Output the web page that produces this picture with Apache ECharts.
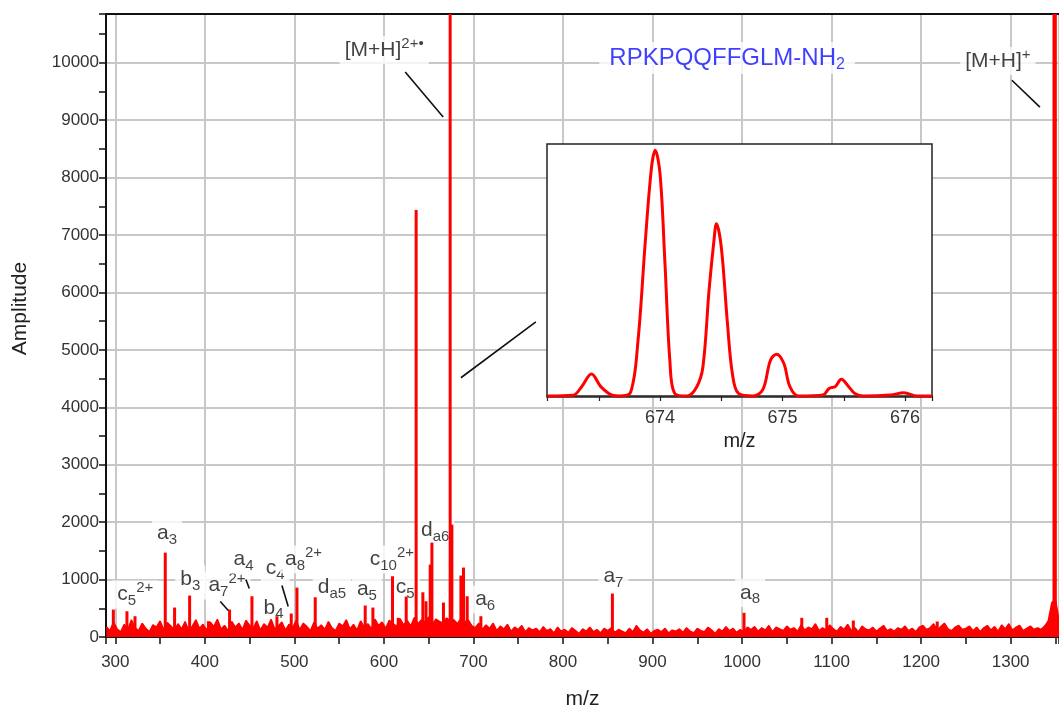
<!DOCTYPE html>
<html>
<head>
<meta charset="utf-8">
<script src="https://cdn.jsdelivr.net/npm/echarts@6/dist/echarts.min.js"></script>
<style>
  html, body { margin: 0; padding: 0; background: #fff; }
  #chart { width: 1059px; height: 707px; }
</style>
</head>
<body>
<div id="chart"></div>
<script>
// baseline noise of the spectrum, one value every 4 m/z starting at 290
const noiseStart = 290
const noiseStep = 4
const noise = [
  180, 110, 260, 140, 90, 220, 130, 300, 160, 110, 240, 150, 90, 210, 170, 280, 130, 250, 190, 120,
  230, 140, 270, 110, 190, 300, 150, 220, 120, 260, 180, 310, 140, 200, 110, 270, 170, 240, 130, 290,
  200, 150, 280, 120, 230, 170, 310, 140, 190, 260, 120, 220, 160, 290, 130, 240, 180, 110, 260, 150,
  210, 130, 270, 160, 110, 240, 190, 300, 140, 220, 120, 280, 170, 230, 140, 310, 200, 260, 150, 290,
  240, 180, 320, 210, 290, 190, 340, 230, 300, 260, 350, 220, 310, 270, 240, 330, 280, 300, 230, 320,
  260, 300, 200, 160, 240, 130, 210, 150, 240, 110, 190, 140, 220, 100, 170, 130, 200, 90, 160, 120,
  150, 90, 180, 110, 140, 70, 170, 100, 130, 80, 160, 110, 60, 140, 100, 170, 90, 130, 70, 150,
  110, 160, 80, 130, 100, 70, 150, 90, 200, 120, 80, 140, 60, 110, 130, 90, 150, 70, 120, 100,
  140, 80, 160, 100, 70, 150, 110, 90, 170, 120, 60, 140, 100, 180, 110, 150, 80, 130, 90, 170,
  130, 180, 100, 160, 120, 200, 90, 170, 140, 110, 190, 130, 160, 100, 210, 120, 170, 140, 230, 110,
  160, 120, 210, 140, 100, 180, 130, 220, 110, 160, 90, 190, 140, 120, 170, 100, 150, 200, 110, 140,
  100, 160, 130, 190, 110, 150, 90, 170, 200, 130, 160, 230, 120, 180, 240, 140, 110, 170, 200, 130,
  150, 190, 110, 170, 90, 160, 200, 120, 180, 100, 210, 140, 230, 120, 170, 200, 110, 150, 190, 130,
  160, 130, 190, 280, 600, 650, 300
]

// fragment / precursor peaks [m/z, amplitude]
const peaks = [
  [297.8, 478], [313, 449], [322, 362], [355.8, 1470], [366.2, 513], [383, 722], [404, 275],
  [427.6, 478], [452.6, 710], [480.5, 362], [496.5, 409], [502.9, 861], [523.3, 692],
  [579.1, 548], [587.7, 513], [609.6, 1058], [616, 334], [624.9, 705], [636, 7437],
  [643.5, 779], [647, 623], [651.7, 1261], [653.6, 1644], [666.5, 600], [674, 11500],
  [675.9, 1957], [686, 1070], [688.9, 1209], [693, 710], [708.3, 362], [855.2, 757],
  [1002.2, 421], [1066.7, 334], [1094.6, 334], [1124.3, 287], [1218, 270],
  [1348.4, 11500], [1349.9, 11500]
]

// annotation texts and where they sit (m/z, amplitude)
const labelText = [
  '[M+H]{sup|2+•}', '[M+H]{sup|+}', 'a{sub|3}', 'c{sub|5}{sup|2+}', 'b{sub|3}',
  'a{sub|7}{sup|2+}', 'a{sub|4}', 'c{sub|4}', 'b{sub|4}', 'a{sub|8}{sup|2+}', 'd{sub|a5}',
  'a{sub|5}', 'c{sub|10}{sup|2+}', 'c{sub|5}', 'd{sub|a6}', 'a{sub|6}', 'a{sub|7}', 'a{sub|8}'
]
const labelPos = [
  [600.3, 10221], [1285.8, 10030], [357.7, 1813], [322.3, 739], [383.7, 1000],
  [424.7, 896], [443.2, 1348], [478.6, 1204], [476.7, 508], [510.2, 1348], [541.9, 873],
  [581, 826], [608.9, 1348], [623.8, 873], [657.3, 1858], [713.1, 652], [856.3, 1058], [1009, 769]
]
const peptide = 'RPKPQQFFGLM-NH{sub|2}'
const peptidePos = [983.3, 10082]

// short leader lines from labels to peaks
const leaders = [
  [[623.8, 9838], [666.2, 9055]],
  [[1301.4, 9697], [1332.7, 9229]],
  [[417.2, 618], [426.2, 461]],
  [[445.9, 1000], [449.6, 844]],
  [[486.1, 896], [493.1, 531]],
  [[686, 4515], [769.7, 5489]]
]

// inset: isotope cluster of [M+H]2+•, relative amplitude
const insetMz = [
  673.08, 673.29, 673.36, 673.44, 673.52, 673.61, 673.67, 673.76, 673.82, 673.88, 673.93,
  673.96, 674.00, 674.04, 674.08, 674.12, 674.22, 674.30, 674.35, 674.40, 674.44, 674.46,
  674.50, 674.55, 674.59, 674.64, 674.76, 674.84, 674.90, 674.95, 675.01, 675.06, 675.13,
  675.33, 675.38, 675.43, 675.48, 675.54, 675.59, 675.66, 675.88, 675.99, 676.10, 676.22
]
const insetAmp = [
  0, 0.3, 3.7, 8.7, 3.5, 0.3, 0, 1.5, 22, 61.7, 90.6,
  97.5, 88, 52.6, 14, 1, 0, 3.7, 11.6, 42, 61.7, 68.4,
  59, 28.9, 9, 1, 0, 2.6, 14, 16.6, 13, 3.7, 0,
  0.4, 3, 3.7, 6.6, 3.7, 1, 0, 0.4, 1.3, 0, 0
]

const RED = '#ff0000'
const GRID_GRAY = '#c8c8c8'
const FONT = 'Liberation Sans, Arial, sans-serif'
const plain = v => String(v)

const chart = echarts.init(document.getElementById('chart'))

const rich = {
  sub: { fontSize: 15, verticalAlign: 'bottom', lineHeight: 14 },
  sup: { fontSize: 15, verticalAlign: 'top', lineHeight: 14 }
}

const labelData = labelPos.map((p, i) => ({
  value: p,
  label: { formatter: labelText[i] }
}))
labelData.push({
  value: peptidePos,
  label: {
    formatter: peptide,
    color: '#0f0fff',
    fontSize: 24,
    padding: [2, 10],
    rich: {
      sub: { fontSize: 16, verticalAlign: 'bottom', lineHeight: 14, color: '#0f0fff' }
    }
  }
})

const option = {
  animation: false,
  backgroundColor: '#fff',
  grid: [
    { left: 106, top: 14, right: 0, bottom: 70, outerBoundsMode: 'none', containLabel: false },
    {
      left: 547, top: 144, width: 385, height: 253, z: 4,
      outerBoundsMode: 'none', containLabel: false,
      show: true, backgroundColor: '#fff', borderColor: '#222', borderWidth: 1.5
    }
  ],
  xAxis: [
    {
      type: 'value', gridIndex: 0, min: 289.6, max: 1354, splitNumber: 10,
      name: 'm/z', nameLocation: 'middle', nameGap: 52,
      nameTextStyle: { fontFamily: FONT, fontSize: 21, color: '#222' },
      axisLine: { lineStyle: { color: '#111', width: 2 } },
      axisTick: { length: 7, lineStyle: { color: '#111', width: 1.5 } },
      minorTick: { show: true, splitNumber: 2, length: 7, lineStyle: { color: '#111', width: 1.5 } },
      splitLine: { show: true, lineStyle: { color: GRID_GRAY, width: 2 } },
      axisLabel: {
        fontFamily: FONT, fontSize: 17, color: '#333', margin: 17, formatter: plain,
        showMinLabel: false, showMaxLabel: false
      }
    },
    {
      type: 'value', gridIndex: 0, position: 'top', min: 289.6, max: 1354,
      axisLine: { show: true, lineStyle: { color: '#111', width: 2 } },
      axisTick: { show: false }, axisLabel: { show: false }, splitLine: { show: false }
    },
    {
      type: 'value', gridIndex: 1, min: 673.077, max: 676.22, splitNumber: 3, z: 5,
      name: 'm/z', nameLocation: 'middle', nameGap: 34,
      nameTextStyle: { fontFamily: FONT, fontSize: 20, color: '#222' },
      axisLine: { lineStyle: { color: '#222', width: 1.5 } },
      axisTick: { length: 5, lineStyle: { color: '#222', width: 1.2 } },
      minorTick: { show: true, splitNumber: 2, length: 5, lineStyle: { color: '#222', width: 1.2 } },
      splitLine: { show: false },
      axisLabel: {
        fontFamily: FONT, fontSize: 18, color: '#333', margin: 12,
        showMinLabel: false, showMaxLabel: false
      }
    }
  ],
  yAxis: [
    {
      type: 'value', gridIndex: 0, min: 0, max: 10850, splitNumber: 10,
      name: 'Amplitude', nameLocation: 'middle', nameGap: 75,
      nameTextStyle: { fontFamily: FONT, fontSize: 21, color: '#222', padding: [0, 0, 0, 34] },
      axisLine: { show: true, lineStyle: { color: '#111', width: 2 } },
      axisTick: { show: true, length: 7, lineStyle: { color: '#111', width: 1.5 } },
      minorTick: { show: true, splitNumber: 2, length: 7, lineStyle: { color: '#111', width: 1.5 } },
      splitLine: { show: true, lineStyle: { color: GRID_GRAY, width: 2 } },
      axisLabel: {
        fontFamily: FONT, fontSize: 17, color: '#333', margin: 7, formatter: plain,
        showMaxLabel: false
      }
    },
    {
      type: 'value', gridIndex: 1, min: -0.4, max: 100, show: false
    }
  ],
  series: [
    {
      // label boxes: white backgrounds hide the grid lines, spectrum drawn on top
      type: 'scatter', xAxisIndex: 0, yAxisIndex: 0, z: 1, silent: true,
      symbolSize: 1, itemStyle: { color: 'transparent' },
      label: {
        show: true, position: 'inside',
        fontFamily: FONT, fontSize: 21, color: '#111', lineHeight: 28,
        backgroundColor: '#fff', padding: [0, 5],
        rich: rich
      },
      labelLayout: { hideOverlap: false },
      data: labelData,
      markLine: {
        silent: true, symbol: 'none', animation: false,
        label: { show: false },
        lineStyle: { color: '#111', width: 1.6, type: 'solid' },
        data: leaders.map(l => [{ coord: l[0] }, { coord: l[1] }])
      }
    },
    {
      name: 'noise', type: 'line', xAxisIndex: 0, yAxisIndex: 0, z: 3,
      symbol: 'none',
      lineStyle: { color: RED, width: 1.5 },
      areaStyle: { color: RED, opacity: 1, origin: 'start' },
      data: noise.map((v, i) => [noiseStart + i * noiseStep, v])
    },
    {
      name: 'peaks', type: 'bar', xAxisIndex: 0, yAxisIndex: 0, z: 3,
      barWidth: 3, clip: true,
      itemStyle: { color: RED },
      data: peaks
    },
    {
      name: 'inset', type: 'line', xAxisIndex: 2, yAxisIndex: 1, z: 6,
      symbol: 'none', smooth: 0.35,
      lineStyle: { color: RED, width: 3 },
      data: insetMz.map((m, i) => [m, insetAmp[i]])
    }
  ]
}

chart.setOption(option)
</script>
</body>
</html>
